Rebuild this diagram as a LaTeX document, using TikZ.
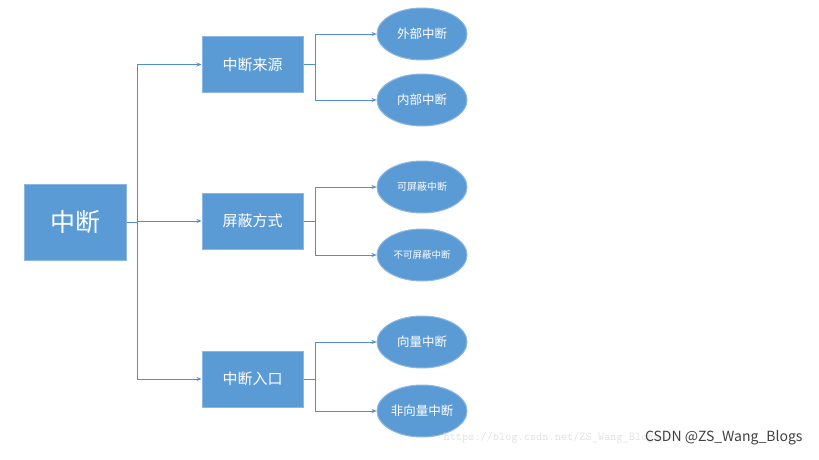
\documentclass[tikz,border=0pt]{standalone}
\usepackage{fontspec}
\setmainfont{Noto Sans CJK SC}
\usetikzlibrary{shapes.geometric,arrows.meta}
\definecolor{fillb}{HTML}{5B9BD5}
\definecolor{edgeb}{HTML}{8DB6E2}
\definecolor{lineb}{HTML}{4F8ED0}
\begin{document}
\begin{tikzpicture}[x=1pt,y=-1pt,
  box/.style={draw=edgeb,line width=1pt,fill=fillb,text=white,minimum width=101pt,minimum height=56pt,inner sep=0pt,font=\fontsize{15}{18}\selectfont},
  oval/.style={ellipse,draw=edgeb,line width=1pt,fill=fillb,text=white,minimum width=90pt,minimum height=52pt,inner sep=0pt,font=\fontsize{12.5}{15}\selectfont},
  conn/.style={lineb,line width=0.7pt,-{Stealth[length=5pt,width=4pt]}}]
\useasboundingbox (0,0) rectangle (819,460);
\node[box,minimum width=102pt,minimum height=76pt,font=\fontsize{25}{30}\selectfont] (root) at (75,222) {中断};
\node[box] (a) at (252.5,64.5) {中断来源};
\node[box] (b) at (252.5,221) {屏蔽方式};
\node[box] (c) at (252.5,379) {中断入口};
\node[oval] (a1) at (422,34) {外部中断};
\node[oval] (a2) at (422,100) {内部中断};
\node[oval,font=\fontsize{10}{12}\selectfont] (b1) at (422,187) {可屏蔽中断};
\node[oval,font=\fontsize{9.5}{12}\selectfont] (b2) at (422,255) {不可屏蔽中断};
\node[oval] (c1) at (422,342) {向量中断};
\node[oval] (c2) at (422,411) {非向量中断};
\coordinate (rj) at (137,222);
\foreach \t in {a,b,c}{\draw[conn] (root.east) -- (rj) |- (\t.west);}
\foreach \p/\q/\r in {a/a1/a2,b/b1/b2,c/c1/c2}{
  \coordinate (j\p) at ([xshift=12pt]\p.east);
  \draw[conn] (\p.east) -- (j\p) |- (\q.west);
  \draw[conn] (j\p) |- (\r.west);}
\node[text=black!12,font=\ttfamily\fontsize{12}{14}\selectfont,anchor=west] (url) at (440,438) {https://blog.csdn.net/ZS\_Wang\_Blogs};
\node[text=black!75,font=\fontsize{14}{16}\selectfont,anchor=east] (wm) at (806,438) {CSDN @ZS\_Wang\_Blogs};
\end{tikzpicture}
\end{document}
